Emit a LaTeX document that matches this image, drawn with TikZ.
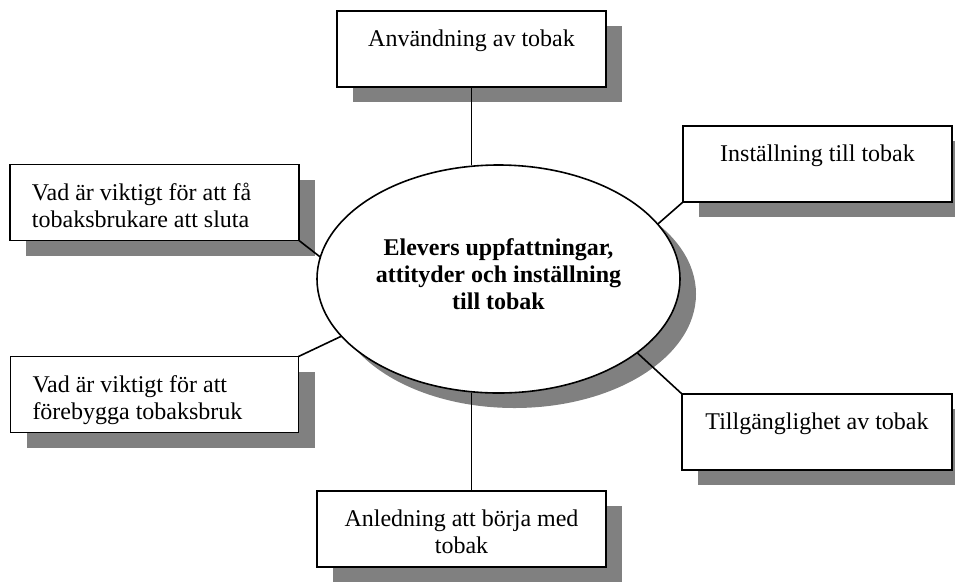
\documentclass[tikz,border=0pt]{standalone}
\usepackage{fontspec}
\setmainfont{Liberation Serif}
\usetikzlibrary{shapes.geometric,shadows}

\definecolor{shadowgray}{HTML}{808080}
\newcommand{\diagfont}{\fontsize{18}{20.25}\selectfont}
% text sits at the top of each box
\newcommand{\boxtext}[3]{\parbox[c][57pt][t]{#1}{\vspace*{12.5pt}#2\strut#3\strut}}

\tikzset{
  boxshadow/.style={drop shadow={shadow xshift=12pt,shadow yshift=-11.25pt,opacity=1,fill=shadowgray}},
  topic/.style={draw,fill=white,line width=1.3pt,inner sep=0pt,outer sep=0pt,boxshadow},
  hub/.style={ellipse,draw,fill=white,line width=1.2pt,inner sep=0pt,outer sep=0pt,
    minimum width=272.25pt,minimum height=171pt,align=center,
    font=\diagfont\bfseries,boxshadow},
  link/.style={line width=1.2pt}
}

\begin{document}
\diagfont
\begin{tikzpicture}[x=0.75pt,y=-0.75pt]
    \useasboundingbox (0,0) rectangle (955,583);

    \node[hub] (hub) at (498.5,279) {Elevers uppfattningar,\\attityder och inställning\\till tobak\rule[-7.5pt]{0pt}{0pt}};

    \node[topic] (anv) at (471.5,49) {\boxtext{201.75pt}{\centering}{Användning av tobak}};
    \node[topic] (inst) at (817.5,164) {\boxtext{201.75pt}{\centering}{Inställning till tobak}};
    \node[topic] (sluta) at (154.5,202.5) {\boxtext{216.75pt}{\raggedright\leftskip=16.5pt}{Vad är viktigt för att få\\tobaksbrukare att sluta}};
    \node[topic] (forebygg) at (154.5,394.5) {\boxtext{216pt}{\raggedright\leftskip=16.5pt}{Vad är viktigt för att\\förebygga tobaksbruk}};
    \node[topic] (tillg) at (817,432) {\boxtext{202.5pt}{\centering}{Tillgänglighet av tobak}};
    \node[topic] (anl) at (461.5,529) {\boxtext{216.75pt}{\centering}{Anledning att börja med\\tobak}};

    \draw[link] (anv.south) -- (anv.south |- hub.north);
    \draw[link] (inst.south west) -- (hub.19);
    \draw[link] (sluta.south east) -- (hub.173);
    \draw[link] (forebygg.north east) -- (hub.200);
    \draw[link] (tillg.north west) -- (hub.332);
    \draw[link] (anv.south |- hub.south) -- (anv.south |- anl.north);
\end{tikzpicture}
\end{document}
